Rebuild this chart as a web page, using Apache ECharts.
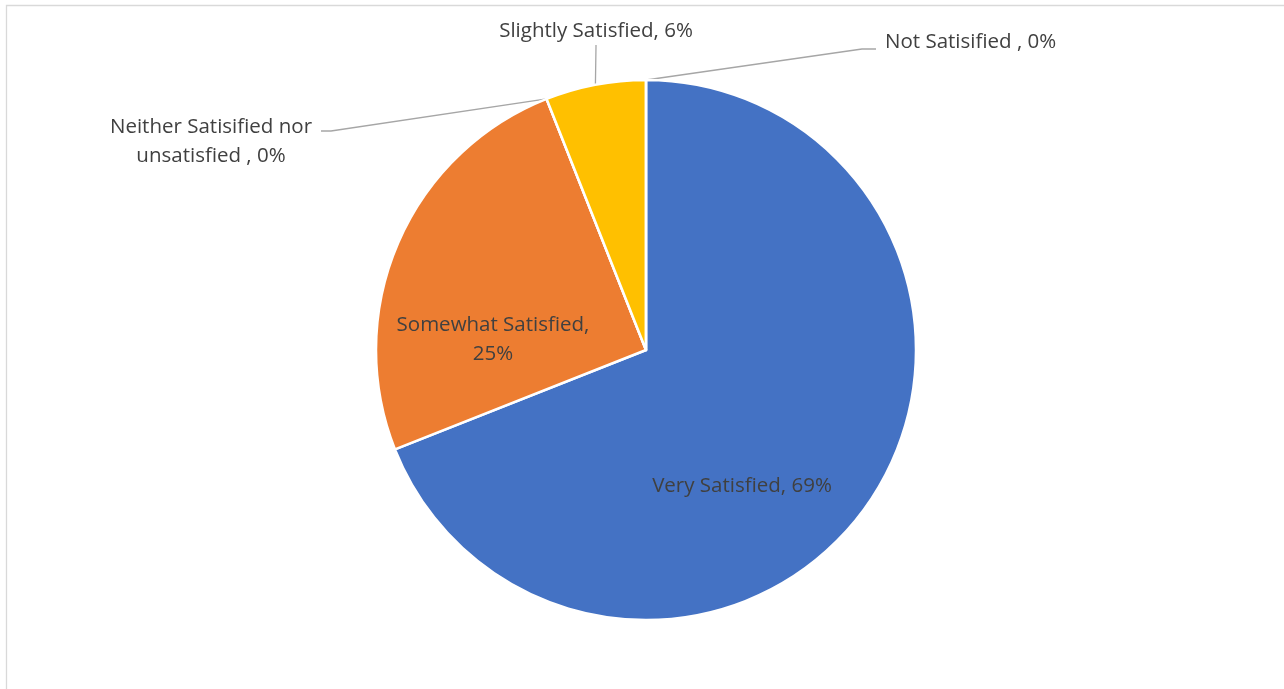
<!DOCTYPE html>
<html>
<head>
<meta charset="utf-8">
<title>Satisfaction</title>
<script src="https://cdn.jsdelivr.net/npm/echarts@6/dist/echarts.min.js"></script>
<style>
  html, body { margin: 0; padding: 0; background: #ffffff; }
  #chart { width: 1284px; height: 689px; }
</style>
</head>
<body>
<div id="chart"></div>
<script>
// Survey responses, in drawing order (clockwise from 12 o'clock)
const categories = [
  'Very Satisfied',
  'Somewhat Satisfied',
  'Neither Satisified nor unsatisfied ',
  'Slightly Satisfied',
  'Not Satisified '
];
const shares = [69, 25, 0, 6, 0];
const sliceColors = ['#4472C4', '#ED7D31', '#A5A5A5', '#FFC000', '#5B9BD5'];

// Label text as it is shown next to each slice
const labelTexts = [
  'Very Satisfied, 69%',
  'Somewhat Satisfied,\n25%',
  'Neither Satisified nor\nunsatisfied , 0%',
  'Slightly Satisfied, 6%',
  'Not Satisified , 0%'
];

// Where each label sits on the page, and how its leader line bends
const labelPlacement = [
  { x: 742, y: 486, align: 'center' },
  { x: 493, y: 340, align: 'center' },
  { x: 211, y: 142, align: 'center', bend: [331, 131], end: [321, 131] },
  { x: 596, y: 31, align: 'center', bend: [596, 46], end: [596, 45] },
  { x: 885, y: 42, align: 'left', bend: [862, 49], end: [876, 49] }
];

const chart = echarts.init(document.getElementById('chart'), null, { renderer: 'canvas' });

chart.setOption({
  animation: false,
  backgroundColor: '#ffffff',
  graphic: [{
    type: 'rect',
    shape: { x: 6.5, y: 5.5, width: 1400, height: 800 },
    style: { fill: 'none', stroke: '#D9D9D9', lineWidth: 1.3 },
    silent: true,
    z: 0
  }],
  series: [{
    type: 'pie',
    center: [646, 350],
    radius: [0, 270],
    startAngle: 90,
    clockwise: true,
    avoidLabelOverlap: false,
    stillShowZeroSum: true,
    itemStyle: { borderColor: '#ffffff', borderWidth: 2.5 },
    label: {
      show: true,
      color: '#404040',
      fontFamily: 'Open Sans',
      fontSize: 20.5,
      lineHeight: 29,
      formatter: (p) => labelTexts[p.dataIndex]
    },
    labelLine: {
      show: true,
      length: 20,
      length2: 10,
      lineStyle: { color: '#A6A6A6', width: 1.3 }
    },
    labelLayout: (params) => {
      const pl = labelPlacement[params.dataIndex];
      const out = {
        x: pl.x,
        y: pl.y,
        align: pl.align,
        verticalAlign: 'middle'
      };
      if (pl.bend && params.labelLinePoints) {
        out.labelLinePoints = [params.labelLinePoints[0], pl.bend, pl.end];
      }
      return out;
    },
    data: categories.map((name, i) => ({
      name: name,
      value: shares[i],
      itemStyle: { color: sliceColors[i] },
      label: { position: (i === 0 || i === 1) ? 'inside' : 'outside' },
      labelLine: { show: !(i === 0 || i === 1) }
    }))
  }]
});
</script>
</body>
</html>
